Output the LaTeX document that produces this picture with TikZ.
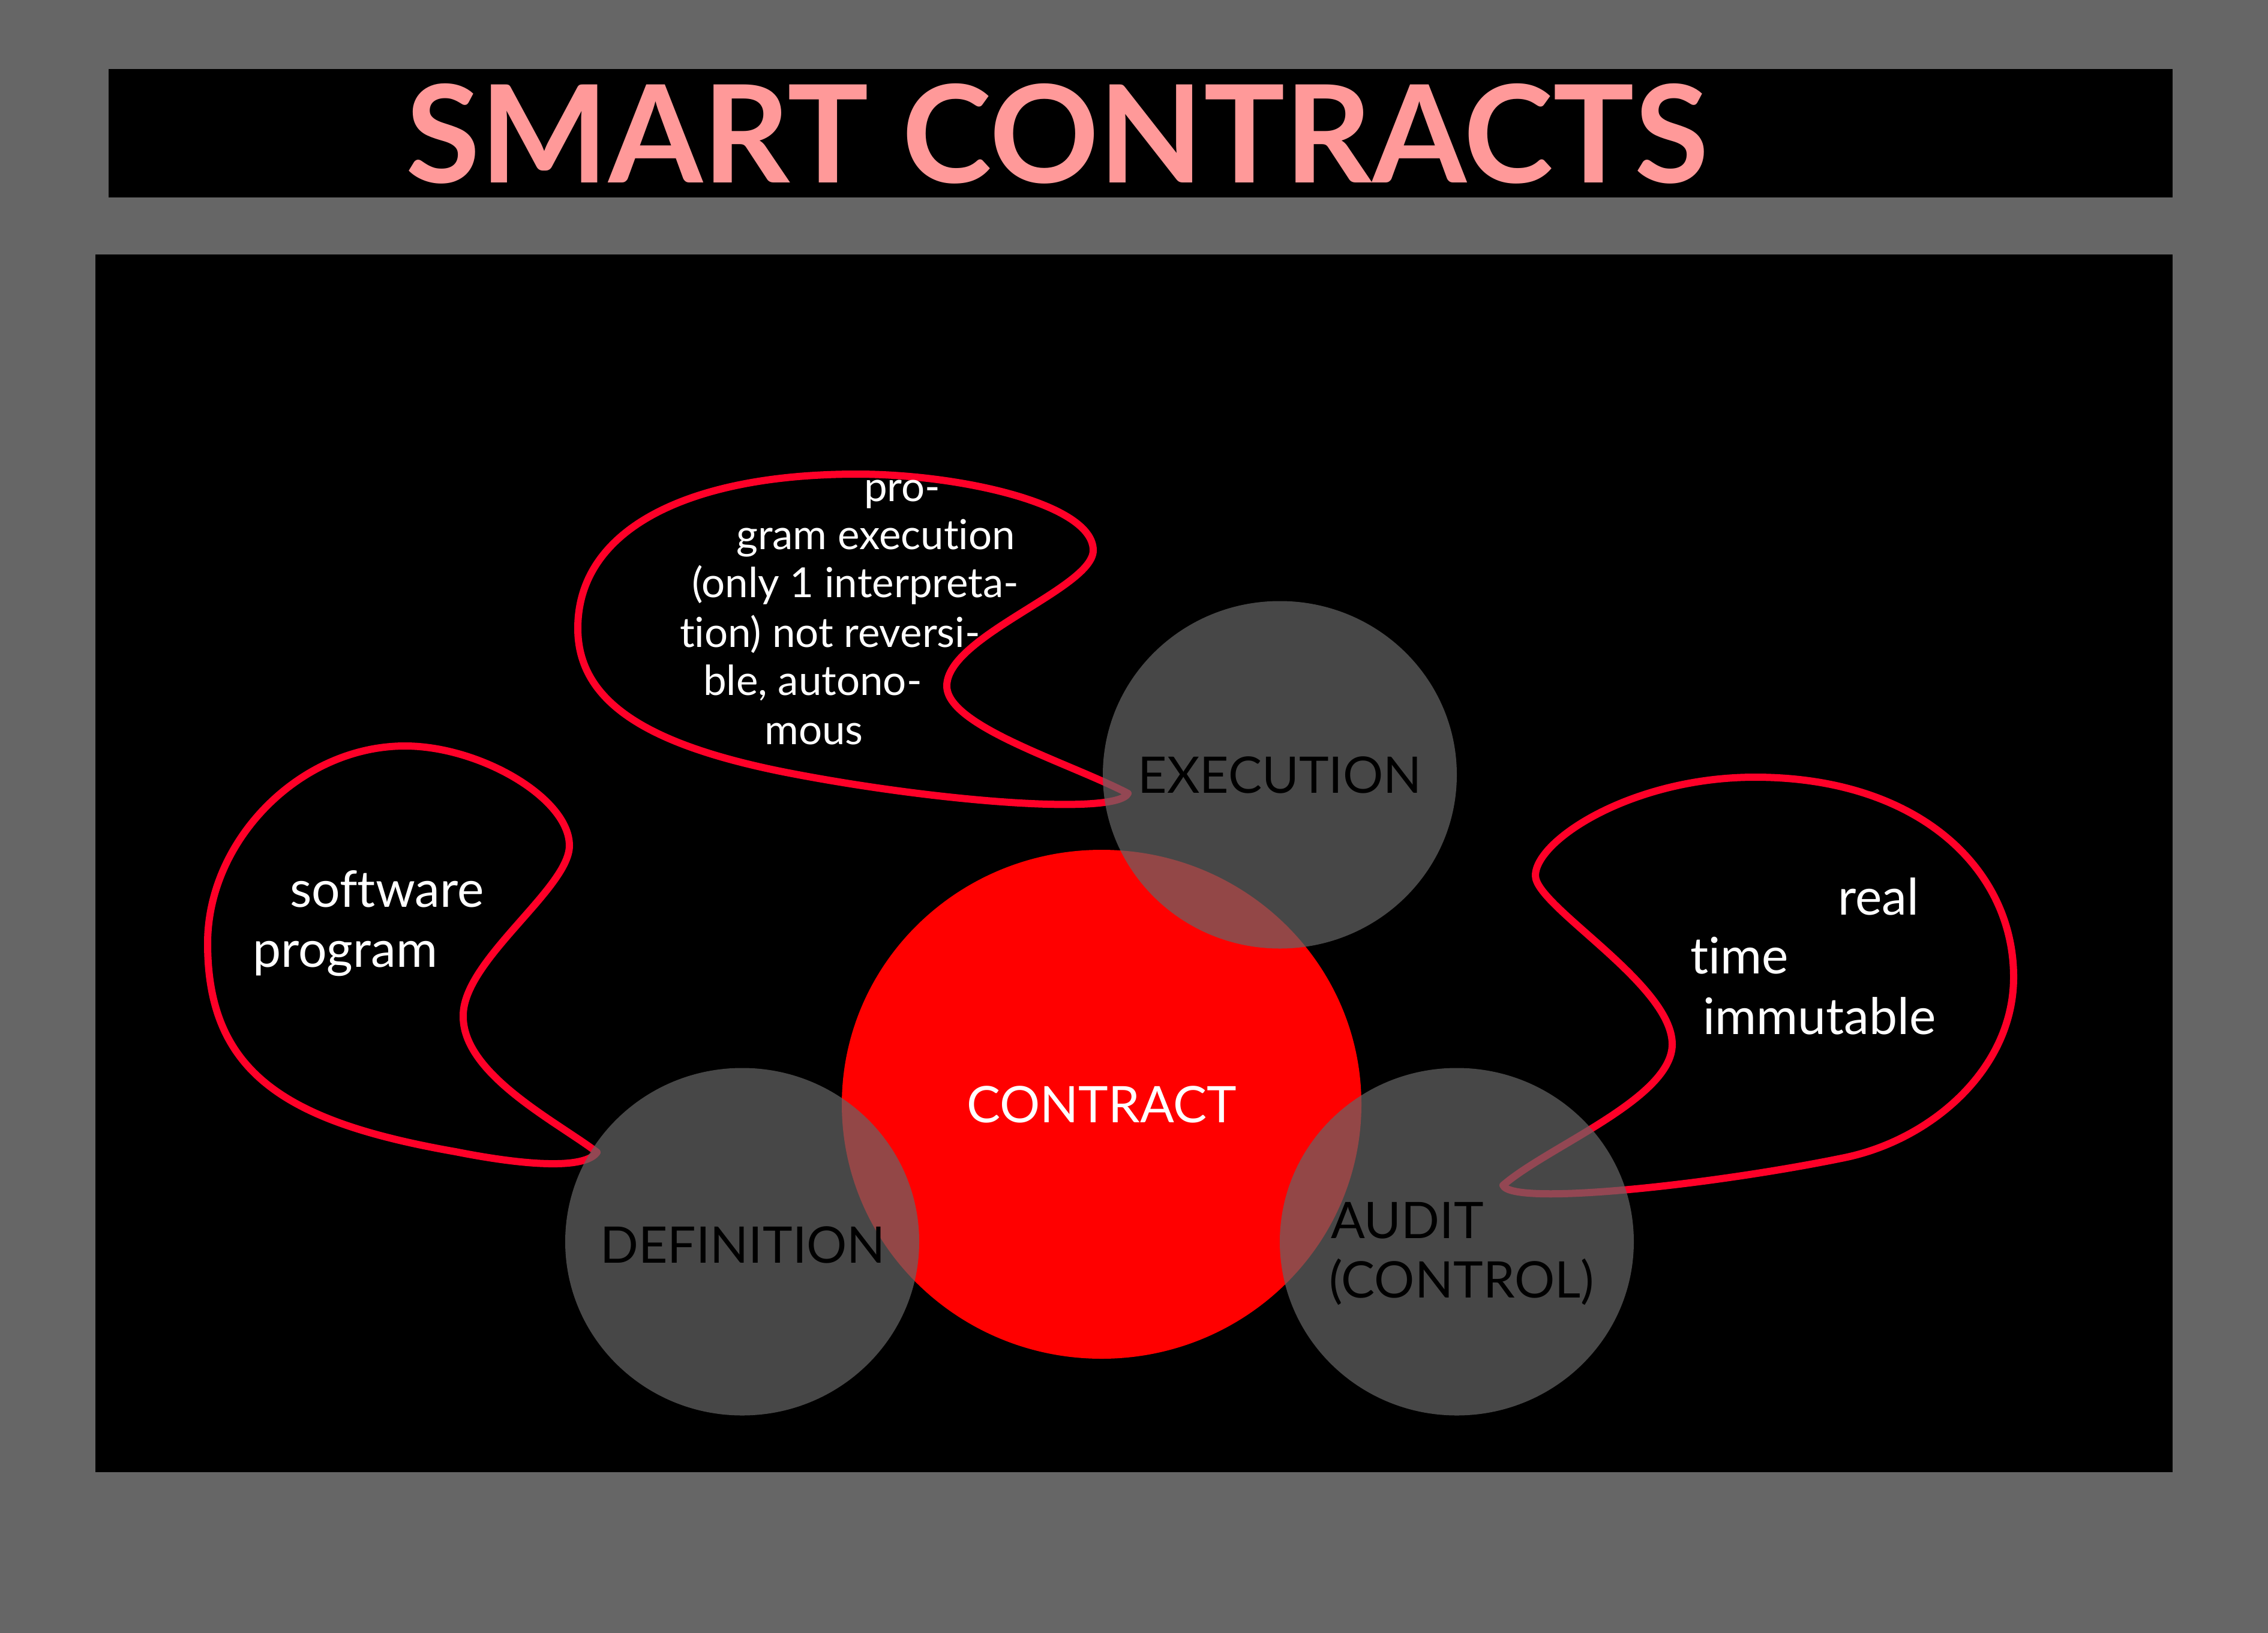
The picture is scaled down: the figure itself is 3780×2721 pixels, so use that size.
\documentclass[tikz,border=0pt]{standalone}
\usepackage{fontspec}
\setmainfont{Lato}[Ligatures=NoCommon]
\usepackage{tikz}
\usetikzlibrary{shapes.geometric}
\definecolor{frame}{RGB}{102,102,102}
\definecolor{titlepink}{RGB}{255,153,153}
\definecolor{callred}{RGB}{255,0,40}

\begin{document}
\begin{tikzpicture}[x=1pt, y=-1pt,
      bubble/.style ={ellipse, fill=frame, fill opacity=0.7, inner sep=0pt,
                      minimum width=590pt, minimum height=579pt},
      core/.style ={ellipse, fill=red, inner sep=0pt, minimum width=866pt, minimum height=848pt,
                      text=white, font=\fontsize{84}{99}\selectfont},
      label/.style ={inner sep=0pt, text=black, font=\fontsize{84}{99}\selectfont},
      callout/.style ={draw=callred, line width=12pt, line join=round},
      note/.style ={anchor=base west, inner sep=0pt, text=white, font=\fontsize{84}{100}\selectfont},
      smallnote/.style ={note, font=\fontsize{69}{81}\selectfont}]

   \useasboundingbox (0,0) rectangle (3780,2721);
   \fill[frame] (0,0) rectangle (3780,2721);
   \fill[black] (181,115) rectangle (3621,329);
   \fill[black] (159,424) rectangle (3621,2453);

   \node[anchor=base, text=titlepink, inner sep=0pt,
         font=\fontsize{226}{226}\selectfont\bfseries] (T) at (1762,305) {SMART CONTRACTS};

   \node[core] (C) at (1836,1840) {CONTRACT};

   % call-outs
   \draw[callout] (995,1920) .. controls (930,1870) and (770,1790) .. (772,1692)
      .. controls (772,1600) and (949,1480) .. (949,1409)
      .. controls (949,1330) and (800,1243) .. (675,1243)
      .. controls (500,1243) and (346,1400) .. (346,1572)
      .. controls (346,1790) and (480,1870) .. (759,1919)
      .. controls (880,1943) and (975,1948) .. cycle;
   \draw[callout] (1880,1322) .. controls (1780,1270) and (1578,1210) .. (1578,1143)
      .. controls (1578,1060) and (1822,980) .. (1822,917)
      .. controls (1822,840) and (1600,790) .. (1428,790)
      .. controls (1150,790) and (963,880) .. (963,1047)
      .. controls (963,1170) and (1080,1240) .. (1300,1285)
      .. controls (1550,1335) and (1860,1360) .. cycle;
   \draw[callout] (2505,1975) .. controls (2580,1910) and (2787,1830) .. (2787,1740)
      .. controls (2787,1640) and (2559,1510) .. (2559,1459)
      .. controls (2559,1400) and (2720,1295) .. (2925,1295)
      .. controls (3200,1295) and (3356,1450) .. (3356,1628)
      .. controls (3356,1780) and (3220,1899) .. (3074,1929)
      .. controls (2850,1975) and (2520,2010) .. cycle;

   \node[bubble] (E) at (2133,1291) {};
   \node[bubble] (D) at (1237,2069) {};
   \node[bubble] (A) at (2428,2069) {};

   \node[label] (E1) at (E.center) {EXECUTION};
   \node[label] (D1) at (1238,2074) {DEFINITION};
   \node[note, text=black] (A1) at (2218,2063) {AUDIT};
   \node[note, text=black] (A2) at (2215,2162) {(CONTROL)};

   \node[note] (S1) at (483,1511) {software};
   \node[note] (S2) at (421,1611) {program};

   \node[smallnote] (P1) at (1440,835) {pro-};
   \node[smallnote] (P2) at (1227,915) {gram execution};
   \node[smallnote] (P3) at (1153,995) {(only 1 interpreta-};
   \node[smallnote] (P4) at (1133,1078) {tion) not reversi-};
   \node[smallnote] (P5) at (1172,1158) {ble, autono-};
   \node[smallnote] (P6) at (1274,1240) {mous};

   \node[note] (R1) at (3063,1524) {real};
   \node[note] (R2) at (2817,1622) {time};
   \node[note] (R3) at (2838,1723) {immutable};
\end{tikzpicture}
\end{document}
